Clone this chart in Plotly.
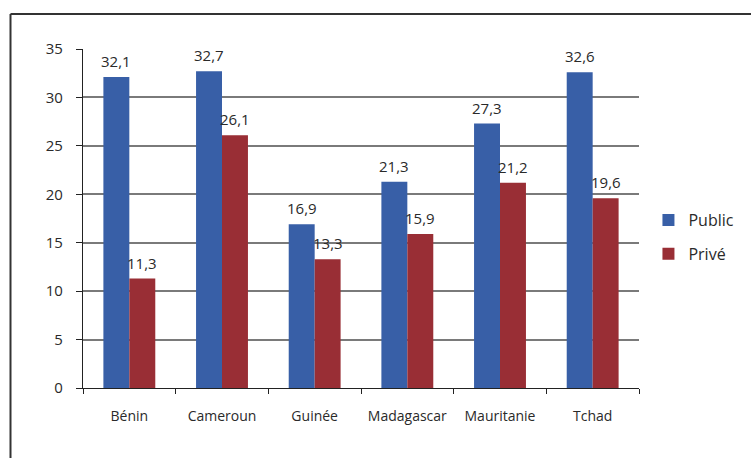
import plotly.graph_objects as go

# Données : taux par pays, secteur public vs privé
pays = ["Bénin", "Cameroun", "Guinée", "Madagascar", "Mauritanie", "Tchad"]
public = [32.1, 32.7, 16.9, 21.3, 27.3, 32.6]
prive = [11.3, 26.1, 13.3, 15.9, 21.2, 19.6]
y_ticks = [0, 5, 10, 15, 20, 25, 30, 35]

BLUE = "#385fa7"
RED = "#992e35"
FONT = "Open Sans"
TXT = "#2a2a2a"


def fr(v):
    return f"{v:.1f}".replace(".", ",")


fig = go.Figure()
fig.add_trace(go.Bar(name="Public", x=pays, y=public, marker_color=BLUE,
                     marker_line_width=0, legendgroup="pub"))
fig.add_trace(go.Bar(name="Privé", x=pays, y=prive, marker_color=RED,
                     marker_line_width=0, legendgroup="pri"))

# Étiquettes de valeur au-dessus de chaque barre
annotations = []
for serie, shift in ((public, -13), (prive, 13)):
    for p, v in zip(pays, serie):
        annotations.append(dict(x=p, y=v, text=fr(v), showarrow=False,
                                xanchor="center", yanchor="bottom",
                                xshift=shift, yshift=4,
                                font=dict(family=FONT, size=15, color=TXT)))

# Cadre extérieur (bords gauche et haut)
shapes = [
    dict(type="line", xref="paper", yref="paper", x0=-0.1304, x1=-0.1304,
         y0=-0.3, y1=1.1032, line=dict(color="#333333", width=2)),
    dict(type="line", xref="paper", yref="paper", x0=-0.1304, x1=1.5,
         y0=1.1032, y1=1.1032, line=dict(color="#333333", width=2)),
]

fig.update_layout(
    width=751, height=458,
    margin=dict(l=83, r=112, t=49, b=70, autoexpand=False),
    paper_bgcolor="white", plot_bgcolor="white",
    barmode="group", bargap=0.44, bargroupgap=0,
    font=dict(family=FONT, size=15, color=TXT),
    showlegend=True,
    legend=dict(x=1.017, y=0.445, xanchor="left", yanchor="middle",
                font=dict(family=FONT, size=16, color=TXT),
                tracegroupgap=10, bgcolor="rgba(0,0,0,0)",
                itemwidth=30),
    annotations=annotations,
    shapes=shapes,
)

fig.update_xaxes(
    type="category", showline=True, linecolor="#222222", linewidth=1.3,
    ticks="outside", tickson="boundaries", ticklen=5, tickcolor="#222222",
    tickwidth=1.3, ticklabelstandoff=15, tickangle=0,
    tickfont=dict(family=FONT, size=14, color=TXT),
    showgrid=False,
)
fig.update_yaxes(
    range=[0, 35], tickvals=y_ticks, ticktext=[str(t) for t in y_ticks],
    showline=True, linecolor="#222222", linewidth=1.3,
    ticks="outside", ticklen=6, tickcolor="#222222", tickwidth=1.3,
    ticklabelstandoff=10,
    showgrid=True, gridcolor="#7a7a7a", gridwidth=1.5,
    zeroline=False,
    tickfont=dict(family=FONT, size=15, color=TXT),
)

fig.write_html("out.html")
